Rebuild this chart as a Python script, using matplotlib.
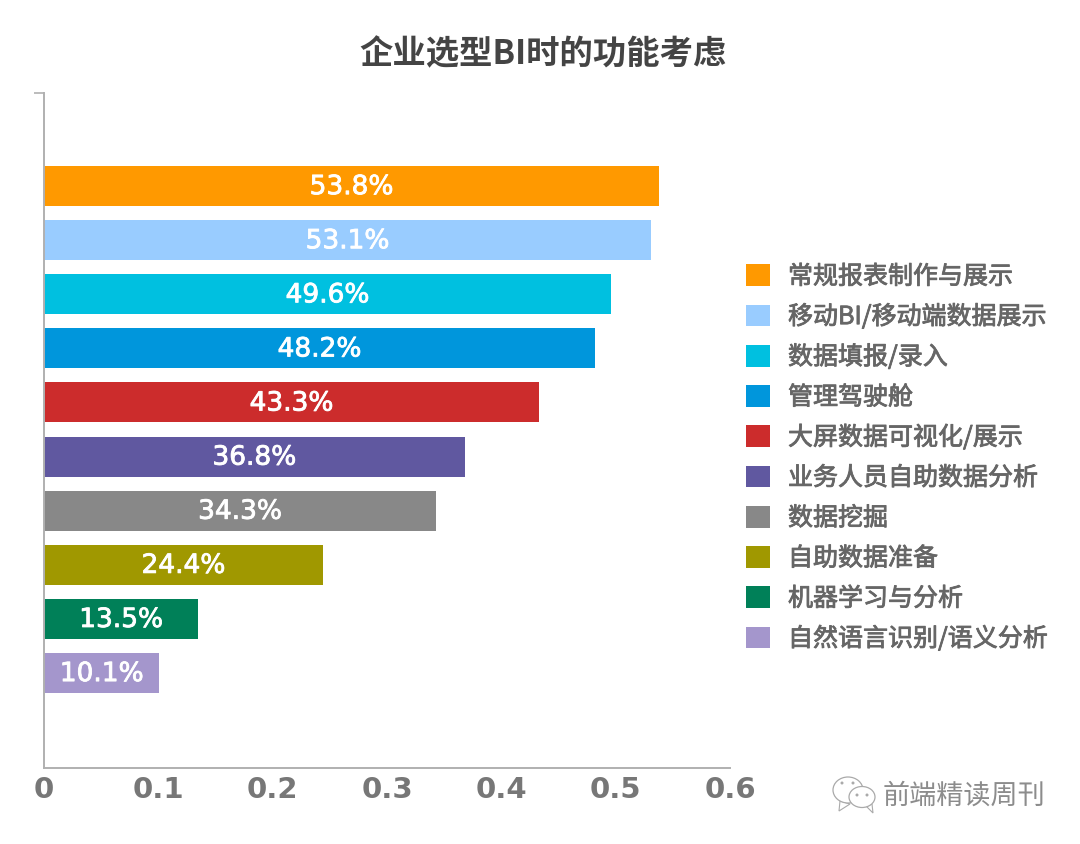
import matplotlib
matplotlib.use("Agg")
import matplotlib.pyplot as plt
import matplotlib.patheffects as pe
from matplotlib.patches import Ellipse, Polygon

plt.rcParams['font.family'] = ['Noto Sans CJK SC', 'DejaVu Sans']

# === Data ===
categories = ["常规报表制作与展示", "移动BI/移动端数据展示", "数据填报/录入", "管理驾驶舱",
              "大屏数据可视化/展示", "业务人员自助数据分析", "数据挖掘", "自助数据准备",
              "机器学习与分析", "自然语言识别/语义分析"]
values = [0.538, 0.531, 0.496, 0.482, 0.433, 0.368, 0.343, 0.244, 0.135, 0.101]
colors = ["#FF9900", "#99CCFF", "#00C0E0", "#0096DC", "#CC2C2C",
          "#6058A0", "#888888", "#A09800", "#008058", "#A496CC"]
x_ticks = [0, 0.1, 0.2, 0.3, 0.4, 0.5, 0.6]
x_tick_labels = ["0", "0.1", "0.2", "0.3", "0.4", "0.5", "0.6"]
title = "企业选型BI时的功能考虑"
watermark = "前端精读周刊"

W, H = 1080, 844
fig = plt.figure(figsize=(W / 100, H / 100), dpi=100)
ax = fig.add_axes([44 / W, 1 - 768 / H, (730 - 44) / W, (768 - 93) / H])

# === Bars ===
bars = []
for i in range(len(values)):
    b = ax.barh(i, values[i], height=0.74, color=colors[i], label=categories[i])
    bars.append(b[0])
    ax.text(values[i] / 2, i + 0.02, f"{values[i] * 100:.1f}%", ha="center", va="center",
            color="white", fontsize=19, family="DejaVu Sans",
            path_effects=[pe.withStroke(linewidth=0.6, foreground="white")])

ax.set_xlim(0, 0.6)
ax.set_ylim(10.756, -1.72)
ax.set_xticks(x_ticks)
ax.set_xticklabels(x_tick_labels, fontsize=21, fontweight="bold", color="#777777", family="DejaVu Sans")
ax.set_yticks([-1.72])
ax.set_yticklabels([""])
ax.tick_params(axis="x", length=0, pad=6)
ax.tick_params(axis="y", length=7, color="#B0B0B0", width=1.2)
ax.spines["top"].set_visible(False)
ax.spines["right"].set_visible(False)
ax.spines["left"].set_color("#B0B0B0")
ax.spines["bottom"].set_color("#B0B0B0")
ax.spines["left"].set_linewidth(1.4)
ax.spines["bottom"].set_linewidth(1.4)

fig.text(543 / W, 1 - 55 / H, title, ha="center", va="center", fontsize=24,
         fontweight="bold", color="#444444")

# === Legend ===
leg = fig.legend(handles=bars, labels=categories, loc="center left",
                 bbox_to_anchor=(746 / W, 1 - 458 / H), frameon=False, fontsize=18,
                 labelcolor="#666666", handlelength=0.96, handleheight=0.96,
                 handletextpad=0.72, labelspacing=0.57, borderpad=0, borderaxespad=0)
for t in leg.get_texts():
    t.set_path_effects([pe.withStroke(linewidth=0.6, foreground="#666666")])

# === Watermark, drawn in pixel coordinates ===
over = fig.add_axes([0, 0, 1, 1], facecolor="none")
over.set_xlim(0, W)
over.set_ylim(H, 0)
over.axis("off")
over.add_patch(Polygon([[840, 801], [839, 811], [850, 804]], fc="white", ec="#AAAAAA", lw=0.8))
over.add_patch(Ellipse((848, 790), 30, 26, fc="white", ec="#AAAAAA", lw=0.9))
over.add_patch(Polygon([[866, 806], [873, 813], [872, 804]], fc="white", ec="#AAAAAA", lw=0.8))
over.add_patch(Ellipse((862, 797), 26, 21, fc="white", ec="#AAAAAA", lw=0.9))
for ex, ey in [(842, 783), (853, 783), (857, 795), (867, 795)]:
    over.add_patch(Ellipse((ex, ey), 3, 3, fc="#AAAAAA", ec="none"))
over.text(964, 796, watermark, ha="center", va="center", fontsize=19.5, color="#8C8C8C")

fig.savefig("out.png", dpi=100)
